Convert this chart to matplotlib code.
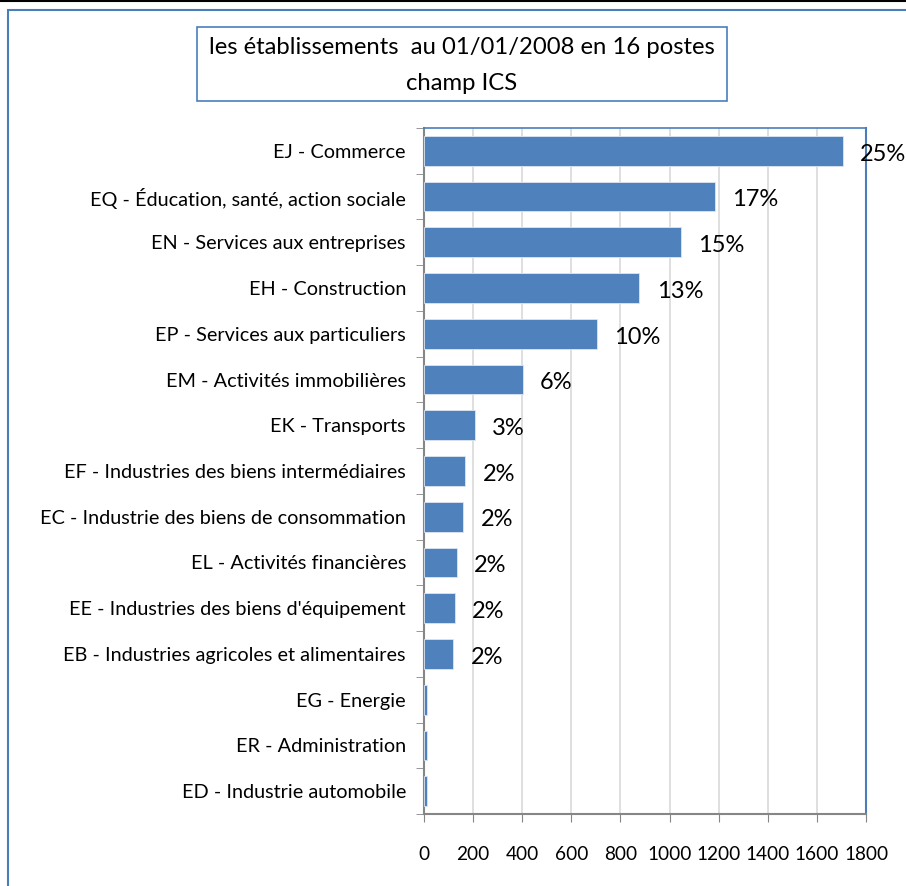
import matplotlib
matplotlib.use('Agg')
import matplotlib.pyplot as plt
from matplotlib.patches import Rectangle
from matplotlib.lines import Line2D
import numpy as np

plt.rcParams['font.family'] = ['Lato', 'DejaVu Sans']

categories = [
    'EJ - Commerce',
    'EQ - Éducation, santé, action sociale',
    'EN - Services aux entreprises',
    'EH - Construction',
    'EP - Services aux particuliers',
    'EM - Activités immobilières',
    'EK - Transports',
    'EF - Industries des biens intermédiaires',
    'EC - Industrie des biens de consommation',
    'EL - Activités financières',
    "EE - Industries des biens d'équipement",
    'EB - Industries agricoles et alimentaires',
    'EG - Energie',
    'ER - Administration',
    'ED - Industrie automobile',
]
values = [1706, 1185, 1046, 877, 704, 403, 208, 168, 160, 134, 127, 119, 11, 11, 11]
pct_labels = ['25%', '17%', '15%', '13%', '10%', '6%', '3%', '2%', '2%', '2%', '2%', '2%', '', '', '']
xticks = [0, 200, 400, 600, 800, 1000, 1200, 1400, 1600, 1800]

BLUE = '#4f81bd'
FRAME = '#4a7ebb'
AXGRAY = '#868686'

fig = plt.figure(figsize=(9.06, 8.86), dpi=100)

# outer chart frame (cut off right/bottom like the screenshot)
fig.patches.append(Rectangle((8 / 906, -0.05), 1.0, 1 - 10 / 886 + 0.05,
                             transform=fig.transFigure, fill=False,
                             edgecolor=FRAME, linewidth=1.5))
fig.lines.append(Line2D([0, 1], [0.999, 0.999], transform=fig.transFigure,
                        color='black', linewidth=1.5))

ax = fig.add_axes([424 / 906, 1 - 814 / 886, 442 / 906, (814 - 128) / 886])
y = np.arange(len(categories))
ax.barh(y, values, height=0.65, color=BLUE, edgecolor='#dce6f2', linewidth=0.6, zorder=3)

for yi, v, lab in zip(y, values, pct_labels):
    if lab:
        ax.text(v + 70, yi + 0.07, lab, va='center', ha='left', fontsize=17,
                color='black', zorder=4, clip_on=False)

ax.set_xlim(0, 1800)
ax.set_ylim(len(categories) - 0.5, -0.5)
ax.set_xticks(xticks)
ax.set_xticklabels([str(t) for t in xticks], fontsize=13.7)
ax.set_yticks(y)
ax.set_yticklabels(categories, fontsize=14.3)
ax.set_yticks(np.arange(-0.5, len(categories)), minor=True)
ax.tick_params(axis='y', which='major', length=0, pad=13)
ax.tick_params(axis='y', which='minor', length=6, color=AXGRAY, direction='out')
ax.tick_params(axis='x', length=6, color=AXGRAY, direction='out', pad=17)
ax.grid(axis='x', color='#d9d9d9', linewidth=1.2, zorder=0)
ax.set_axisbelow(True)

ax.spines['left'].set_color(AXGRAY)
ax.spines['bottom'].set_color(AXGRAY)
ax.spines['left'].set_linewidth(1.5)
ax.spines['bottom'].set_linewidth(1.5)
ax.spines['top'].set_color(FRAME)
ax.spines['right'].set_color(FRAME)
ax.spines['top'].set_linewidth(1.2)
ax.spines['right'].set_linewidth(1.5)

# title box
fig.patches.append(Rectangle((197 / 906, 1 - 101 / 886), 530 / 906, 74 / 886,
                             transform=fig.transFigure, fill=True, facecolor='white',
                             edgecolor=FRAME, linewidth=1.2))
fig.text(462 / 906, 1 - 48 / 886, 'les établissements  au 01/01/2008 en 16 postes',
         ha='center', va='center', fontsize=17.2)
fig.text(462 / 906, 1 - 84 / 886, 'champ ICS', ha='center', va='center', fontsize=17.2)

fig.savefig('out.png', dpi=100)
